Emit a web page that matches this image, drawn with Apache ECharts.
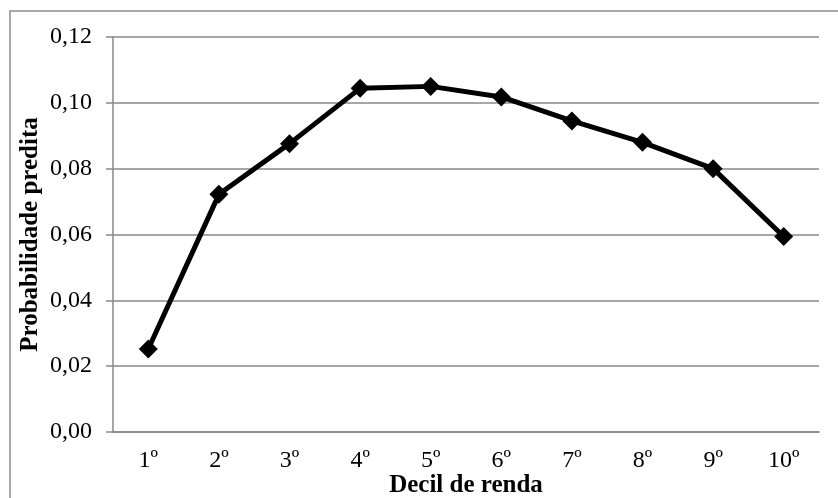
<!DOCTYPE html>
<html>
<head>
<meta charset="utf-8">
<script src="https://cdn.jsdelivr.net/npm/echarts@6/dist/echarts.min.js"></script>
<style>
  html, body { margin: 0; padding: 0; background: #fff; }
  #main { width: 838px; height: 498px; }
</style>
</head>
<body>
<div id="main"></div>
<script>
// dados
const decis = ["1º", "2º", "3º", "4º", "5º", "6º", "7º", "8º", "9º", "10º"];
const probabilidade = [0.0252, 0.0722, 0.0876, 0.1044, 0.1050, 0.1018, 0.0945, 0.0880, 0.0800, 0.0594];

const chart = echarts.init(document.getElementById("main"), null, { renderer: "canvas" });
const fonte = "'Liberation Serif', 'DejaVu Serif', serif";

const option = {
  backgroundColor: "#fff",
  animation: false,
  graphic: [{
    type: "rect",
    shape: { x: 10, y: 11, width: 840, height: 500 },
    style: { fill: "none", stroke: "#8c8c8c", lineWidth: 1.5 }
  }],
  grid: { left: 113, right: 19, top: 37, bottom: 66, outerBoundsMode: "none", containLabel: false },
  xAxis: {
    type: "category",
    data: decis,
    boundaryGap: true,
    name: "Decil de renda",
    nameLocation: "middle",
    nameGap: 41,
    nameMoveOverlap: false,
    nameTextStyle: { fontFamily: fonte, fontSize: 25, fontWeight: "bold", color: "#000" },
    axisLine: { show: true, lineStyle: { color: "#888", width: 1.5 } },
    axisTick: { show: false },
    axisLabel: { fontFamily: fonte, fontSize: 24, color: "#000", margin: 17, interval: 0 }
  },
  yAxis: {
    type: "value",
    min: 0,
    max: 0.12,
    interval: 0.02,
    name: "Probabilidade predita",
    nameLocation: "middle",
    nameGap: 70,
    nameMoveOverlap: false,
    nameTextStyle: { fontFamily: fonte, fontSize: 25, fontWeight: "bold", color: "#000" },
    axisLine: { show: true, lineStyle: { color: "#888", width: 1.5 } },
    axisTick: { show: true, inside: false, length: 7, lineStyle: { color: "#888", width: 1.5 } },
    splitLine: { show: true, lineStyle: { color: "#888", width: 1.5 } },
    axisLabel: {
      fontFamily: fonte, fontSize: 24, color: "#000", margin: 21,
      formatter: (v) => v.toFixed(2).replace(".", ",")
    }
  },
  series: [{
    type: "line",
    data: probabilidade,
    symbol: "diamond",
    symbolSize: 19,
    lineStyle: { color: "#000", width: 5 },
    itemStyle: { color: "#000" }
  }]
};

chart.setOption(option);
</script>
</body>
</html>
